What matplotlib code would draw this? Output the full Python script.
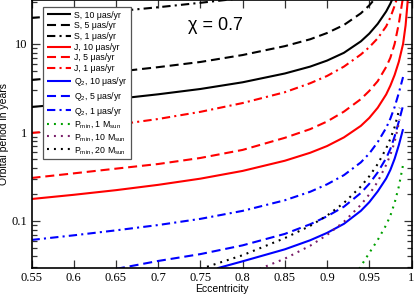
import matplotlib
matplotlib.use("Agg")
import matplotlib.pyplot as plt
from matplotlib.ticker import FixedLocator, LogLocator, NullFormatter, FixedFormatter

plt.rcParams['lines.scale_dashes'] = False
plt.rcParams['mathtext.default'] = 'regular'
plt.rcParams['font.family'] = ['Liberation Sans', 'DejaVu Sans']

# ---- data ----
e_S10 = [0.55, 0.6, 0.65, 0.7, 0.75, 0.8, 0.85, 0.88, 0.9, 0.92, 0.94, 0.95, 0.96, 0.97, 0.975, 0.98]
p_S10 = [1.94, 2.14, 2.39, 2.70, 3.10, 3.69, 4.64, 5.55, 6.49, 7.95, 10.7, 13.1, 16.9, 23.3, 28.6, 36.9]

e_S5 = [0.55, 0.6, 0.65, 0.7, 0.75, 0.8, 0.85, 0.88, 0.9, 0.92, 0.94, 0.95, 0.96]
p_S5 = [3.92, 4.33, 4.84, 5.47, 6.26, 7.50, 9.45, 11.3, 13.3, 16.4, 22.2, 27.3, 35.3]

e_S1 = [0.55, 0.6, 0.65, 0.7, 0.75, 0.8]
p_S1 = [19.7, 21.4, 23.4, 26.0, 29.2, 33.0]

e_J1 = [0.55, 0.6, 0.65, 0.7, 0.75, 0.8, 0.85, 0.88, 0.9, 0.92, 0.94, 0.95, 0.96, 0.97, 0.975, 0.98, 0.985]
p_J1 = [0.987, 1.09, 1.22, 1.42, 1.71, 2.15, 2.85, 3.60, 4.35, 5.55, 7.60, 9.20, 11.6, 15.8, 20.0, 27.0, 38.0]

e_J5 = [0.55, 0.6, 0.65, 0.7, 0.75, 0.8, 0.85, 0.88, 0.9, 0.92, 0.94, 0.95, 0.96, 0.97, 0.975, 0.98, 0.985, 0.99]
p_J5 = [0.306, 0.345, 0.39, 0.44, 0.515, 0.635, 0.87, 1.09, 1.33, 1.72, 2.38, 2.95, 3.80, 5.50, 7.00, 10.0, 17.0, 34.0]

e_J10 = [0.55, 0.6, 0.65, 0.7, 0.75, 0.8, 0.85, 0.88, 0.9, 0.92, 0.94, 0.95, 0.96, 0.97, 0.975, 0.98, 0.985, 0.99, 0.993, 0.995, 0.996]
p_J10 = [0.177, 0.1975, 0.2228, 0.2559, 0.3006, 0.3677, 0.4792, 0.5896, 0.7023, 0.880, 1.187, 1.461, 1.903, 2.689, 3.385, 4.462, 6.30, 9.99, 16.2, 26.9, 35.5]

e_Q1 = [0.55, 0.6, 0.65, 0.7, 0.75, 0.8, 0.85, 0.88, 0.9, 0.92, 0.94, 0.95, 0.96, 0.97, 0.975, 0.98, 0.985, 0.99]
p_Q1 = [0.061, 0.0688, 0.0783, 0.0899, 0.1056, 0.130, 0.1713, 0.2137, 0.2594, 0.3295, 0.459, 0.578, 0.779, 1.127, 1.435, 1.936, 2.80, 4.23]

e_Q5 = [0.65, 0.7, 0.75, 0.8, 0.85, 0.88, 0.9, 0.92, 0.94, 0.95, 0.96, 0.97, 0.975, 0.98, 0.985, 0.99]
p_Q5 = [0.0287, 0.0353, 0.0422, 0.053, 0.0714, 0.0917, 0.1128, 0.145, 0.207, 0.263, 0.354, 0.512, 0.652, 0.90, 1.33, 2.01]

e_Q10 = [0.77, 0.8, 0.85, 0.88, 0.9, 0.92, 0.94, 0.95, 0.96, 0.97, 0.975, 0.98, 0.985, 0.99]
p_Q10 = [0.0292, 0.035, 0.0478, 0.0605, 0.0733, 0.0928, 0.130, 0.163, 0.216, 0.302, 0.378, 0.504, 0.72, 1.09]

e_P1 = [0.938, 0.95, 0.96, 0.97, 0.975, 0.98, 0.985, 0.99]
p_P1 = [0.0287, 0.0435, 0.061, 0.090, 0.115, 0.160, 0.245, 0.430]

e_P10 = [0.82, 0.85, 0.88, 0.9, 0.92, 0.94, 0.95, 0.96, 0.97, 0.975, 0.98, 0.986]
p_P10 = [0.0287, 0.0375, 0.0525, 0.0695, 0.098, 0.152, 0.200, 0.278, 0.430, 0.560, 0.780, 1.40]

e_P20 = [0.75, 0.8, 0.85, 0.88, 0.9, 0.92, 0.94, 0.95, 0.96, 0.97, 0.975, 0.98, 0.986]
p_P20 = [0.0287, 0.041, 0.064, 0.088, 0.115, 0.160, 0.245, 0.320, 0.440, 0.660, 0.850, 1.15, 1.90]

x_ticks = [0.55, 0.6, 0.65, 0.7, 0.75, 0.8, 0.85, 0.9, 0.95, 1.0]
x_ticklabels = ['0.55', '0.6', '0.65', '0.7', '0.75', '0.8', '0.85', '0.9', '0.95', '1']
y_ticks = [0.1, 1, 10]
y_ticklabels = ['0.1', '1', '10']

# ---- styles ----
SOLID = (0, ())
DASH = (0, (6.5, 3.5))
DASHDOT = (0, (6.0, 3.0, 1.5, 3.0))
DOT = (0, (1.4, 3.6))

fig = plt.figure(figsize=(4.15, 2.95), dpi=100)
ax = fig.add_axes([31.5 / 415, 27 / 295, 380 / 415, 268 / 295])

series = [
    (e_S10, p_S10, 'black', SOLID, 'S, 10 μas/yr'),
    (e_S5, p_S5, 'black', DASH, 'S, 5 μas/yr'),
    (e_S1, p_S1, 'black', DASHDOT, 'S, 1 μas/yr'),
    (e_J10, p_J10, '#ff0000', SOLID, 'J, 10 μas/yr'),
    (e_J5, p_J5, '#ff0000', DASH, 'J, 5 μas/yr'),
    (e_J1, p_J1, '#ff0000', DASHDOT, 'J, 1 μas/yr'),
    (e_Q10, p_Q10, '#0000ff', SOLID, 'Q$_2$, 10 μas/yr'),
    (e_Q5, p_Q5, '#0000ff', DASH, 'Q$_2$, 5 μas/yr'),
    (e_Q1, p_Q1, '#0000ff', DASHDOT, 'Q$_2$, 1 μas/yr'),
    (e_P1, p_P1, '#00a000', DOT, 'P$_{min}$, 1 M$_{sun}$'),
    (e_P10, p_P10, '#7a1f6a', DOT, 'P$_{min}$, 10 M$_{sun}$'),
    (e_P20, p_P20, 'black', DOT, 'P$_{min}$, 20 M$_{sun}$'),
]
for ex, py, col, ls, lab in series:
    ax.plot(ex, py, color=col, linestyle=ls, lw=1.5, label=lab,
            solid_capstyle='butt', dash_capstyle='butt', solid_joinstyle='round')

ax.set_yscale('log')
ax.set_xlim(0.55, 1.0)
ax.set_ylim(0.0294, 31.4)

ax.xaxis.set_major_locator(FixedLocator(x_ticks))
ax.xaxis.set_major_formatter(FixedFormatter(x_ticklabels))
ax.yaxis.set_major_locator(FixedLocator(y_ticks))
ax.yaxis.set_major_formatter(FixedFormatter(y_ticklabels))
ax.yaxis.set_minor_locator(LogLocator(base=10, subs=range(2, 10)))
ax.yaxis.set_minor_formatter(NullFormatter())

ax.tick_params(which='both', direction='in', top=True, right=True, width=0.9, color='#333333')
ax.tick_params(which='major', length=6, pad=3)
ax.tick_params(which='minor', length=3.5)
for lab in ax.get_xticklabels() + ax.get_yticklabels():
    lab.set_fontfamily('Liberation Serif')
    lab.set_fontsize(9)
for sp in ax.spines.values():
    sp.set_linewidth(1.2)

ax.set_xlabel('Eccentricity', fontsize=7.5, labelpad=0)
ax.set_ylabel('Orbital period in years', fontsize=7.5, labelpad=2)

ax.text(0.483, 0.906, 'χ = 0.7', transform=ax.transAxes, fontsize=13,
        ha='center', va='center')

leg = ax.legend(loc='upper left', bbox_to_anchor=(11.5 / 380, 1 - 7 / 268), borderaxespad=0,
                fontsize=6.3, frameon=True, fancybox=False, framealpha=1,
                edgecolor='#555555', handlelength=2.75, handletextpad=0.45,
                labelspacing=0.2, borderpad=0.4)
leg.get_frame().set_linewidth(0.9)

fig.savefig('out.png', dpi=100)
